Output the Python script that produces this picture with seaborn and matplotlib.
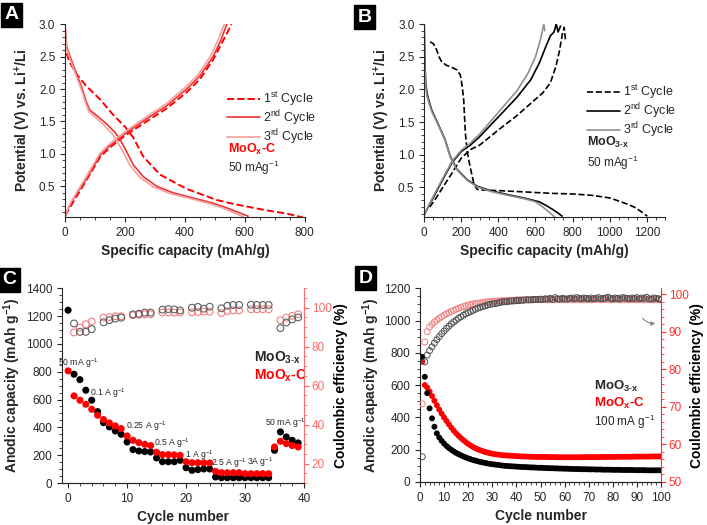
import numpy as np
import matplotlib
matplotlib.use("Agg")
import matplotlib.pyplot as plt
import seaborn as sns

# ---------------- data ----------------
# Panel A: MoOx-C galvanostatic curves (capacity mAh/g, potential V)
a_dis1_cap = [5, 17, 40, 70, 117, 161, 200, 228, 261, 317, 406, 506, 561, 672, 740, 794]
a_dis1_v = [2.55, 2.4, 2.22, 2.05, 1.84, 1.6, 1.42, 1.25, 0.96, 0.68, 0.46, 0.29, 0.23, 0.13, 0.08, 0.02]
a_chg1_cap = [0, 72, 117, 150, 206, 272, 339, 406, 450, 494, 528, 545, 555]
a_chg1_v = [0.05, 0.6, 0.95, 1.1, 1.3, 1.5, 1.7, 1.95, 2.15, 2.45, 2.75, 2.9, 3.0]
a_dis2_cap = [0, 5.5, 17, 33, 56, 72, 83, 106, 139, 167, 183, 206, 228, 261, 306, 361, 428, 494, 539, 583, 611]
a_dis2_v = [2.98, 2.65, 2.5, 2.3, 2.02, 1.79, 1.67, 1.59, 1.46, 1.33, 1.23, 1.03, 0.83, 0.65, 0.5, 0.4, 0.32, 0.24, 0.17, 0.09, 0.04]
a_chg2_cap = [0, 20, 72, 117, 150, 206, 272, 339, 406, 450, 494, 520, 540]
a_chg2_v = [0.05, 0.25, 0.62, 0.98, 1.13, 1.33, 1.54, 1.74, 2.0, 2.2, 2.5, 2.75, 3.0]
a_dis3_cap = [0, 5, 16, 32, 54, 70, 80, 100, 130, 157, 172, 195, 217, 250, 295, 350, 420, 485, 530, 570, 595]
a_dis3_v = [2.98, 2.62, 2.47, 2.27, 2.0, 1.77, 1.65, 1.57, 1.44, 1.31, 1.21, 1.02, 0.82, 0.64, 0.49, 0.39, 0.31, 0.23, 0.16, 0.08, 0.03]
a_chg3_cap = [0, 20, 70, 115, 148, 203, 268, 334, 400, 444, 487, 512, 532]
a_chg3_v = [0.05, 0.26, 0.64, 1.0, 1.15, 1.35, 1.56, 1.76, 2.02, 2.22, 2.52, 2.77, 3.0]

# Panel B: MoO3-x galvanostatic curves
b_dis1_cap = [32, 50, 68, 80, 95, 120, 140, 176, 195, 205, 213, 222, 232, 240, 255, 267, 285, 320, 410, 550, 681, 800, 900, 951, 1000, 1041, 1090, 1132, 1170, 1203]
b_dis1_v = [2.73, 2.7, 2.6, 2.5, 2.42, 2.37, 2.35, 2.3, 2.22, 2.05, 1.84, 1.33, 1.05, 0.92, 0.72, 0.57, 0.47, 0.46, 0.45, 0.43, 0.41, 0.4, 0.38, 0.36, 0.34, 0.3, 0.25, 0.2, 0.13, 0.06]
b_chg1_cap = [30, 60, 100, 150, 200, 250, 300, 400, 500, 580, 640, 680, 710, 730, 745, 755, 762]
b_chg1_v = [0.2, 0.32, 0.5, 0.72, 0.95, 1.08, 1.15, 1.38, 1.6, 1.8, 1.95, 2.1, 2.35, 2.6, 2.85, 2.95, 2.75]
b_dis2_cap = [0, 3, 8, 15, 23, 41, 77, 113, 140, 176, 231, 285, 357, 450, 550, 620, 660, 700, 725, 744]
b_dis2_v = [3.0, 2.5, 2.1, 1.95, 1.85, 1.68, 1.46, 1.23, 0.98, 0.78, 0.62, 0.52, 0.45, 0.39, 0.33, 0.28, 0.22, 0.15, 0.1, 0.06]
b_chg2_cap = [0, 25, 50, 100, 150, 200, 250, 300, 400, 500, 575, 620, 655, 680, 700, 712, 722, 735]
b_chg2_v = [0.08, 0.22, 0.35, 0.62, 0.88, 1.05, 1.15, 1.28, 1.58, 1.88, 2.15, 2.4, 2.65, 2.82, 2.88, 3.0, 2.88, 2.97]
b_dis3_cap = [0, 3, 8, 15, 23, 41, 77, 113, 140, 176, 231, 285, 357, 450, 550, 600, 640, 670, 703]
b_dis3_v = [3.0, 2.4, 2.05, 1.9, 1.82, 1.66, 1.45, 1.22, 0.97, 0.77, 0.61, 0.51, 0.44, 0.38, 0.32, 0.28, 0.2, 0.13, 0.05]
b_chg3_cap = [0, 25, 50, 100, 150, 200, 250, 300, 400, 500, 560, 600, 630, 645, 650]
b_chg3_v = [0.08, 0.23, 0.37, 0.64, 0.9, 1.07, 1.18, 1.32, 1.65, 1.98, 2.25, 2.5, 2.8, 3.0, 2.9]

# Panel C: rate capability
c_cycles = list(range(0, 40))
c_moo3x = [1242, 782, 743, 667, 595, 513, 434, 403, 374, 350,
           295, 240, 230, 226, 223, 180, 153, 153, 153, 163,
           110, 91, 96, 101, 101, 43, 38, 38, 38, 38,
           38, 38, 38, 38, 38, 235, 367, 331, 307, 288]
c_moox_c = [806, 626, 595, 566, 530, 487, 456, 432, 410, 391,
            338, 307, 290, 278, 269, 221, 204, 204, 202, 199,
            153, 146, 146, 145, 144, 84, 74, 74, 74, 74,
            67, 67, 67, 67, 67, 259, 300, 283, 269, 259]
c_ce_cycles = [1, 2, 3, 4, 6, 7, 8, 9, 11, 12, 13, 14, 16, 17, 18, 19,
               21, 22, 23, 24, 26, 27, 28, 29, 31, 32, 33, 34, 36, 37, 38, 39]
c_ce_moo3x = [91.9, 87.6, 87.6, 89.0, 92.5, 93.6, 94.4, 94.9, 96.6, 96.9, 97.5, 97.5,
              99.0, 99.3, 99.1, 98.6, 100.0, 100.4, 99.5, 100.5, 99.7, 101.0, 101.4, 101.4,
              101.5, 101.4, 101.4, 101.4, 89.5, 92.4, 94.0, 95.0]
c_ce_moox_c = [87.3, 89.8, 91.5, 92.9, 94.9, 95.2, 95.6, 95.6, 96.1, 96.4, 96.6, 96.6,
               97.5, 97.5, 97.5, 97.5, 97.6, 97.8, 98.0, 98.0, 97.3, 98.2, 98.6, 98.6,
               99.2, 99.2, 99.2, 99.2, 93.6, 94.9, 95.8, 96.6]
c_rates = ["50 mA g$^{-1}$", "0.1 A g$^{-1}$", "0.25 A g$^{-1}$", "0.5 A g$^{-1}$",
           "1 A g$^{-1}$", "2.5 A g$^{-1}$", "3A g$^{-1}$", "50 mA g$^{-1}$"]
c_rate_x = [1.8, 6.7, 13.3, 17.6, 22.3, 27.2, 32.6, 36.8]
c_rate_y = [860, 643, 410, 288, 197, 141, 151, 432]

# Panel D: long cycling at 100 mA/g
d_cycles = list(range(1, 101))
d_moo3x = [775, 651, 550, 456, 394, 342, 301, 275, 255, 238,
           223, 210, 199, 189, 180, 172, 165, 158, 152, 146,
           141, 136, 132, 128, 124, 121, 118, 115, 112, 110,
           108, 106, 104, 102, 100, 99, 98, 97, 96, 95,
           94, 93, 92, 92, 91, 90, 90, 89, 88, 88,
           87, 86, 86, 85, 85, 84, 84, 83, 83, 82,
           82, 81, 81, 80, 80, 80, 79, 79, 79, 78,
           78, 78, 77, 77, 77, 76, 76, 76, 76, 75,
           75, 75, 75, 74, 74, 74, 74, 74, 73, 73,
           73, 73, 73, 72, 72, 72, 72, 72, 72, 72]
d_moox_c = [745, 600, 585, 560, 532, 503, 475, 448, 423, 400,
            378, 357, 337, 318, 301, 286, 272, 259, 247, 236,
            226, 217, 209, 202, 196, 191, 186, 182, 178, 175,
            172, 170, 168, 166, 165, 164, 163, 162, 161, 160,
            159, 158, 158, 157, 157, 156, 156, 155, 155, 155,
            155, 155, 154, 154, 154, 154, 153, 153, 153, 153,
            153, 153, 153, 153, 153, 153, 153, 154, 154, 154,
            154, 154, 154, 154, 155, 155, 155, 155, 155, 155,
            155, 156, 156, 156, 156, 156, 156, 156, 157, 157,
            157, 157, 157, 157, 157, 158, 158, 158, 158, 158]
d_ce_moo3x = [56.7, 82.0, 83.8, 85.0, 86.0, 87.0, 87.9, 88.7, 89.5, 90.2,
              90.9, 91.5, 92.1, 92.6, 93.1, 93.6, 94.0, 94.4, 94.8, 95.1,
              95.4, 95.7, 96.0, 96.3, 96.5, 96.7, 96.9, 97.1, 97.3, 97.4,
              97.5, 97.6, 97.8, 97.9, 98.0, 98.0, 98.1, 98.2, 98.2, 98.3,
              98.3, 98.4, 98.4, 98.5, 98.5, 98.5, 98.6, 98.6, 98.6, 98.7,
              98.6, 98.8, 98.7, 98.9, 98.6, 99.1, 98.8, 98.7, 98.9, 98.8,
              98.7, 98.9, 99.0, 98.8, 99.1, 98.9, 98.8, 99.0, 98.9, 98.8,
              99.0, 98.8, 98.9, 99.1, 98.8, 98.9, 99.0, 99.2, 98.9, 98.8,
              99.0, 98.9, 98.8, 99.1, 99.0, 98.9, 98.8, 99.0, 98.9, 99.1,
              98.8, 99.0, 98.9, 99.2, 98.8, 98.7, 99.0, 98.9, 98.8, 98.6]
d_ce_moox_c = [70.8, 87.3, 90.0, 91.3, 92.0, 92.6, 93.1, 93.6, 94.0, 94.4,
               94.8, 95.1, 95.4, 95.7, 96.0, 96.2, 96.5, 96.7, 96.9, 97.1,
               97.3, 97.4, 97.5, 97.6, 97.7, 97.8, 97.9, 98.0, 98.0, 98.1,
               98.1, 98.2, 98.2, 98.3, 98.3, 98.3, 98.4, 98.4, 98.4, 98.5,
               98.5, 98.5, 98.5, 98.6, 98.5, 98.6, 98.5, 98.6, 98.6, 98.5,
               98.6, 98.6, 98.5, 98.6, 98.6, 98.5, 98.6, 98.6, 98.6, 98.5,
               98.6, 98.6, 98.5, 98.6, 98.6, 98.6, 98.5, 98.6, 98.6, 98.6,
               98.5, 98.6, 98.6, 98.6, 98.5, 98.6, 98.6, 98.6, 98.5, 98.6,
               98.6, 98.6, 98.5, 98.6, 98.6, 98.5, 98.6, 98.6, 98.6, 98.5,
               98.6, 98.6, 98.5, 98.6, 98.6, 98.6, 98.5, 98.6, 98.6, 98.5]

# ---------------- style ----------------
sns.set_style("ticks")
plt.rcParams["font.family"] = ["Liberation Sans", "DejaVu Sans"]
plt.rcParams["mathtext.fontset"] = "custom"
plt.rcParams["mathtext.rm"] = "Liberation Sans"
plt.rcParams["mathtext.it"] = "Liberation Sans:italic"
plt.rcParams["mathtext.bf"] = "Liberation Sans:bold"
plt.rcParams["xtick.labelsize"] = 8.5
plt.rcParams["ytick.labelsize"] = 8.5
plt.rcParams["axes.linewidth"] = 0.8

RED = "#ff0000"
RED2 = "#ee3333"
PINK = "#f4a0a0"
GRAY = "#909090"
LAB = dict(fontsize=10, fontweight="bold")

fig = plt.figure(figsize=(7.07, 5.25), dpi=100)
axA = fig.add_axes([0.092, 0.587, 0.339, 0.367])
axB = fig.add_axes([0.600, 0.587, 0.341, 0.367])
axC = fig.add_axes([0.088, 0.080, 0.342, 0.371])
axD = fig.add_axes([0.594, 0.082, 0.341, 0.369])


def curve(ax, x, y, color, ls="-", lw=1.2, label=None):
    sns.lineplot(x=x, y=y, ax=ax, color=color, linestyle=ls, lw=lw,
                 sort=False, estimator=None, label=label)


def panel_tag(x, y, letter):
    fig.text(x, y, letter, color="white", fontsize=14, fontweight="bold",
             ha="left", va="top",
             bbox=dict(boxstyle="square,pad=0.18", fc="black", ec="black"))


LEG = dict(loc="upper left", frameon=False, fontsize=9, handlelength=2.6,
           labelspacing=0.0, handletextpad=0.3, borderpad=0.2)

# ---------------- A ----------------
curve(axA, a_dis1_cap, a_dis1_v, RED, "--", 1.4, "1$^{\\mathrm{st}}$ Cycle")
curve(axA, a_chg1_cap, a_chg1_v, RED, "--", 1.4)
curve(axA, a_dis2_cap, a_dis2_v, RED2, "-", 1.2, "2$^{\\mathrm{nd}}$ Cycle")
curve(axA, a_chg2_cap, a_chg2_v, RED2, "-", 1.2)
curve(axA, a_dis3_cap, a_dis3_v, PINK, "-", 1.2, "3$^{\\mathrm{rd}}$ Cycle")
curve(axA, a_chg3_cap, a_chg3_v, PINK, "-", 1.2)
axA.set_xlim(0, 800)
axA.set_ylim(0.03, 3.0)
axA.set_xticks([0, 200, 400, 600, 800])
axA.set_yticks([0.5, 1.0, 1.5, 2.0, 2.5, 3.0])
axA.set_xlabel("Specific capacity (mAh/g)", **LAB)
axA.set_ylabel("Potential (V) vs. Li$^{\\mathbf{+}}$/Li", **LAB)
axA.legend(bbox_to_anchor=(0.64, 0.705), **LEG)
axA.text(0.68, 0.35, "MoO$_{\\mathbf{x}}$-C", transform=axA.transAxes, color=RED,
         fontsize=9, fontweight="bold", va="center")
axA.text(0.68, 0.255, "50 mAg$^{-1}$", transform=axA.transAxes, fontsize=8.5, va="center")

# ---------------- B ----------------
curve(axB, b_dis1_cap, b_dis1_v, "black", "--", 1.2, "1$^{\\mathrm{st}}$ Cycle")
curve(axB, b_chg1_cap, b_chg1_v, "black", "--", 1.2)
curve(axB, b_dis2_cap, b_dis2_v, "black", "-", 1.2, "2$^{\\mathrm{nd}}$ Cycle")
curve(axB, b_chg2_cap, b_chg2_v, "black", "-", 1.2)
curve(axB, b_dis3_cap, b_dis3_v, GRAY, "-", 1.2, "3$^{\\mathrm{rd}}$ Cycle")
curve(axB, b_chg3_cap, b_chg3_v, GRAY, "-", 1.2)
axB.set_xlim(0, 1300)
axB.set_ylim(0.05, 3.0)
axB.set_xticks([0, 200, 400, 600, 800, 1000, 1200])
axB.set_yticks([0.5, 1.0, 1.5, 2.0, 2.5, 3.0])
axB.set_xlabel("Specific capacity (mAh/g)", **LAB)
axB.set_ylabel("Potential (V) vs. Li$^{\\mathbf{+}}$/Li", **LAB)
axB.legend(bbox_to_anchor=(0.64, 0.74), **LEG)
axB.text(0.675, 0.385, "MoO$_{\\mathbf{3\\text{-}x}}$", transform=axB.transAxes,
         fontsize=9, fontweight="bold", va="center")
axB.text(0.675, 0.28, "50 mAg$^{-1}$", transform=axB.transAxes, fontsize=8.5, va="center")

for ax in (axA, axB):
    sns.despine(ax=ax)
    ax.minorticks_on()
    ax.tick_params(which="minor", length=2)
    ax.tick_params(which="major", length=3.5)

# ---------------- C ----------------
axC2 = axC.twinx()
sns.scatterplot(x=c_cycles, y=c_moo3x, ax=axC, color="black", s=26, edgecolor="none")
sns.scatterplot(x=c_cycles, y=c_moox_c, ax=axC, color=RED, s=26, edgecolor="none")
sns.scatterplot(x=c_ce_cycles, y=c_ce_moox_c, ax=axC2, marker="o", s=24,
                facecolors="none", edgecolor="#f08080", linewidth=0.8)
sns.scatterplot(x=c_ce_cycles, y=c_ce_moo3x, ax=axC2, marker="o", s=24,
                facecolors="none", edgecolor="#606060", linewidth=0.8)
axC.set_xlim(-1, 40)
axC.set_ylim(0, 1400)
axC2.set_ylim(10, 110)
axC.set_xticks([0, 10, 20, 30, 40])
axC.set_yticks(range(0, 1401, 200))
axC2.set_yticks([20, 40, 60, 80, 100])
axC.set_xlabel("Cycle number", **LAB)
axC.set_ylabel("Anodic capacity (mAh g$^{\\mathbf{-1}}$)", labelpad=2, **LAB)
axC2.set_ylabel("Coulombic efficiency (%)", labelpad=2, **LAB)
for t, x, y in zip(c_rates, c_rate_x, c_rate_y):
    axC.text(x, y, t, fontsize=6.2, ha="center", va="center")
axC.text(31.5, 900, "MoO$_{\\mathbf{3\\text{-}x}}$", fontsize=10, fontweight="bold", va="center")
axC.text(31.5, 770, "MoO$_{\\mathbf{x}}$-C", fontsize=10, fontweight="bold",
         color=RED, va="center")

# ---------------- D ----------------
axD2 = axD.twinx()
sns.scatterplot(x=d_cycles, y=d_moox_c, ax=axD, color=RED, s=18, edgecolor="none")
sns.scatterplot(x=d_cycles, y=d_moo3x, ax=axD, color="black", s=18, edgecolor="none")
sns.scatterplot(x=d_cycles, y=d_ce_moox_c, ax=axD2, marker="o", s=18,
                facecolors="none", edgecolor="#f08080", linewidth=0.7)
sns.scatterplot(x=d_cycles, y=d_ce_moo3x, ax=axD2, marker="o", s=18,
                facecolors="none", edgecolor="#505050", linewidth=0.7)
axD.set_xlim(0, 100)
axD.set_ylim(0, 1200)
axD2.set_ylim(50, 101.6)
axD.set_xticks(range(0, 101, 10))
axD.set_yticks(range(0, 1201, 200))
axD2.set_yticks(range(50, 101, 10))
axD.set_xlabel("Cycle number", **LAB)
axD.set_ylabel("Anodic capacity (mAh g$^{\\mathbf{-1}}$)", labelpad=1, **LAB)
axD2.set_ylabel("Coulombic efficiency (%)", labelpad=1, **LAB)
axD.text(72, 590, "MoO$_{\\mathbf{3\\text{-}x}}$", fontsize=9.5, fontweight="bold", va="center")
axD.text(72, 485, "MoO$_{\\mathbf{x}}$-C", fontsize=9.5, fontweight="bold",
         color=RED, va="center")
axD.text(72, 375, "100 mA g$^{-1}$", fontsize=8.5, va="center")
axD2.annotate("", xy=(98.8, 92.3), xytext=(91.5, 94.2),
              arrowprops=dict(arrowstyle="-|>", color="#888888", lw=0.8,
                              mutation_scale=6, connectionstyle="arc3,rad=0.3"))

for ax, ax2, rc in ((axC, axC2, "#ff6a6a"), (axD, axD2, "#ff3030")):
    ax.spines["top"].set_visible(False)
    ax2.spines["top"].set_visible(False)
    ax.spines["right"].set_visible(False)
    ax2.spines["left"].set_visible(False)
    ax2.spines["right"].set_color(rc)
    ax2.tick_params(axis="y", which="both", colors=rc, pad=2)
    for lab in ax2.get_yticklabels():
        lab.set_color(rc)
    ax2.yaxis.label.set_color("black")
    ax.minorticks_on()
    ax2.minorticks_on()
    ax.tick_params(which="minor", length=2)
    ax2.tick_params(which="minor", length=2)
    ax.tick_params(which="major", length=3.5)
    ax2.tick_params(which="major", length=3.5)
    if ax.get_legend():
        ax.get_legend().remove()

panel_tag(0.006, 0.988, "A")
panel_tag(0.506, 0.983, "B")
panel_tag(0.003, 0.483, "C")
panel_tag(0.507, 0.486, "D")

fig.savefig("out.png", dpi=100)
